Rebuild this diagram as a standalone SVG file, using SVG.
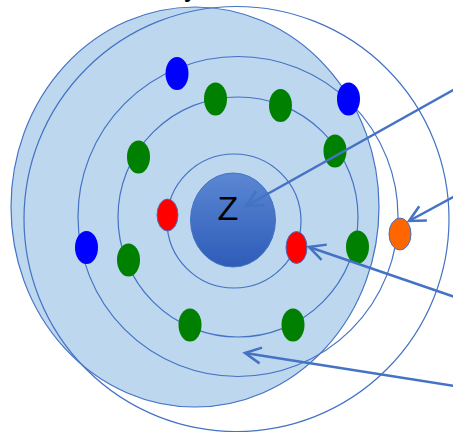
<svg xmlns="http://www.w3.org/2000/svg" width="453" height="433" viewBox="0 0 453 433">
<defs>
<style>
.orbit{fill:none;stroke:#4472C4;stroke-width:1.2}
.conn{fill:none;stroke:#4472C4;stroke-width:2.5}
.green{fill:#008000}
.blue{fill:#0000FF}
.red{fill:#FF0000;stroke:#4472C4;stroke-width:1}
.orange{fill:#FF6600;stroke:#4472C4;stroke-width:1}
</style>
<linearGradient id="nucG" x1="0" y1="0" x2="0" y2="1">
<stop offset="0" stop-color="#5B87D3"/>
<stop offset="1" stop-color="#2E5CB8"/>
</linearGradient>
<marker id="arr" markerUnits="userSpaceOnUse" markerWidth="40" markerHeight="40" viewBox="-20 -20 40 40" refX="0" refY="0" orient="auto">
<path d="M-16,-8 L0,0 L-16,8" fill="none" stroke="#4472C4" stroke-width="2.5"/>
</marker>
</defs>
<rect width="453" height="433" fill="#FFFFFF"/>
<text x="184" y="-3" font-family="Liberation Sans, Arial, sans-serif" font-size="22" font-weight="bold" fill="#000000">y</text>
<g id="atom-shell">
<ellipse cx="195" cy="207" rx="184" ry="200" fill="#BDD7EE" stroke="#4472C4" stroke-width="1.2"/>
</g>
<g id="outer-circle">
<circle class="orbit" cx="236.5" cy="219" r="212.5"/>
</g>
<g id="orbit-3">
<circle class="orbit" cx="238" cy="216.5" r="160"/>
</g>
<g id="orbit-2">
<circle class="orbit" cx="238" cy="217" r="120"/>
</g>
<g id="orbit-1">
<circle class="orbit" cx="234" cy="221" r="67"/>
</g>
<g id="nucleus">
<ellipse cx="233" cy="220" rx="42.5" ry="47" fill="url(#nucG)" stroke="#4472C4" stroke-width="1"/>
<text x="228" y="220" text-anchor="middle" font-family="Liberation Sans, Arial, sans-serif" font-size="34" fill="#000000">Z</text>
</g>
<g id="electrons-1">
<ellipse class="red" cx="167.5" cy="215" rx="10.5" ry="16"/>
<ellipse class="red" cx="296.5" cy="247.5" rx="10.5" ry="16"/>
</g>
<g id="electrons-2">
<ellipse class="green" cx="215.5" cy="99" rx="11.5" ry="16.5"/>
<ellipse class="green" cx="280.5" cy="105.5" rx="11.5" ry="16.5"/>
<ellipse class="green" cx="335" cy="151" rx="11.5" ry="16.5"/>
<ellipse class="green" cx="357.5" cy="247" rx="11.5" ry="16.5"/>
<ellipse class="green" cx="293" cy="325" rx="11.5" ry="16.5"/>
<ellipse class="green" cx="190" cy="325" rx="11.5" ry="16.5"/>
<ellipse class="green" cx="128.5" cy="260" rx="11.5" ry="16.5"/>
<ellipse class="green" cx="138.5" cy="157" rx="11.5" ry="16.5"/>
</g>
<g id="electrons-3">
<ellipse class="blue" cx="177" cy="73.5" rx="11.5" ry="16.5"/>
<ellipse class="blue" cx="348.5" cy="99" rx="11.5" ry="16.5"/>
<ellipse class="blue" cx="86.5" cy="247.5" rx="11.5" ry="16.5"/>
</g>
<g id="electron-4">
<ellipse class="orange" cx="400" cy="234" rx="11" ry="16"/>
</g>
<g id="connectors">
<line class="conn" x1="455" y1="89" x2="246" y2="206" marker-end="url(#arr)"/>
<line class="conn" x1="455" y1="196" x2="409" y2="221" marker-end="url(#arr)"/>
<line class="conn" x1="455" y1="297" x2="309" y2="247" marker-end="url(#arr)"/>
<line class="conn" x1="455" y1="386" x2="245" y2="353" marker-end="url(#arr)"/>
</g>
</svg>
